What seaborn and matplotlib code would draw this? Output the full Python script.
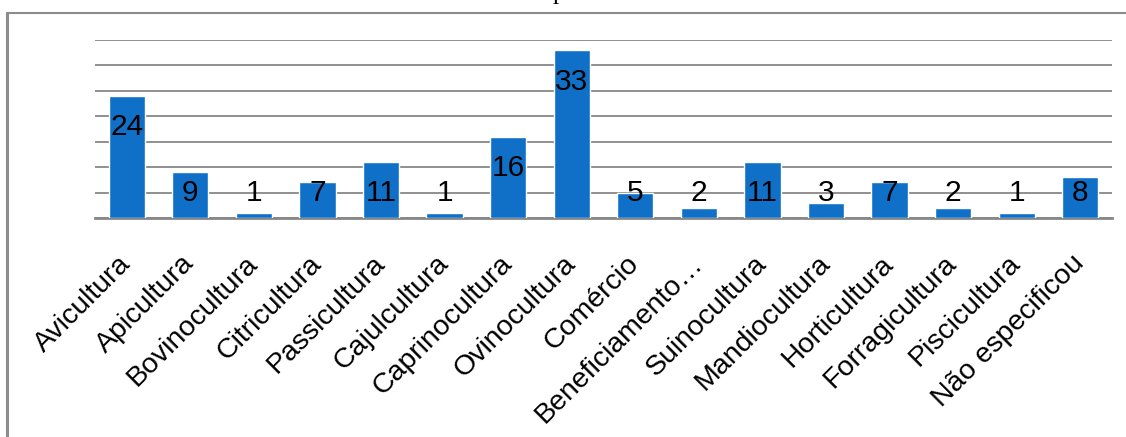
import matplotlib
matplotlib.use("Agg")
import matplotlib.pyplot as plt
import seaborn as sns
import pandas as pd
from matplotlib.lines import Line2D

categories = ["Avicultura", "Apicultura", "Bovinocultura", "Citricultura", "Passicultura",
              "Cajulcultura", "Caprinocultura", "Ovinocultura", "Comércio", "Beneficiamento…",
              "Suinocultura", "Mandiocultura", "Horticultura", "Forragicultura", "Piscicultura",
              "Não especificou"]
values = [24, 9, 1, 7, 11, 1, 16, 33, 5, 2, 11, 3, 7, 2, 1, 8]

sns.set_theme(style="white")
plt.rcParams['font.family'] = ['Liberation Sans', 'DejaVu Sans']

df = pd.DataFrame({"cat": categories, "val": values})

fig = plt.figure(figsize=(11.26, 4.37), dpi=100)
ax = fig.add_axes([95/1126, 1-218/437, (1112-95)/1126, 178/437])

sns.barplot(data=df, x="cat", y="val", color="#1070C8", saturation=1, width=0.57, ax=ax, zorder=3)

ax.set_ylim(0, 35)
ax.set_xlim(-0.5, len(categories)-0.5)
ax.set_yticks(range(0, 36, 5))
ax.set_yticklabels([])
ax.tick_params(axis='y', length=0)
ax.yaxis.grid(True, color="#878787", linewidth=1.3, zorder=0)
ax.set_axisbelow(True)
for s in ["left", "right", "top"]:
    ax.spines[s].set_visible(False)
ax.spines["bottom"].set_color("#878787")
ax.spines["bottom"].set_linewidth(2)
ax.set_xlabel("")
ax.set_ylabel("")
ax.tick_params(axis='x', length=0, pad=30)
ax.set_xticks(range(len(categories)))
ax.set_xticklabels(categories, rotation=45, ha='right', va='center', rotation_mode='anchor',
                   fontsize=20.5, color='black')

for i, v in enumerate(values):
    ax.text(i, max(v - 6.2, 4.9), str(v), ha='center', va='center', fontsize=21.5, color='black', zorder=4)

# outer frame (partially visible)
fig.add_artist(Line2D([7/1126, 7/1126], [0, 1-13/437], color="#8c8c8c", linewidth=2.2,
                      transform=fig.transFigure))
fig.add_artist(Line2D([7/1126, 1], [1-13/437, 1-13/437], color="#8c8c8c", linewidth=1.5,
                      transform=fig.transFigure))
# cut-off title fragment (only its descender shows, as in the reference)
fig.text(559/1126, 1.0 + 1/437, "p", family=['Liberation Serif', 'DejaVu Serif'], fontsize=18,
         ha='center', va='baseline', color='black')

fig.savefig("out.png", dpi=100, facecolor="white")
